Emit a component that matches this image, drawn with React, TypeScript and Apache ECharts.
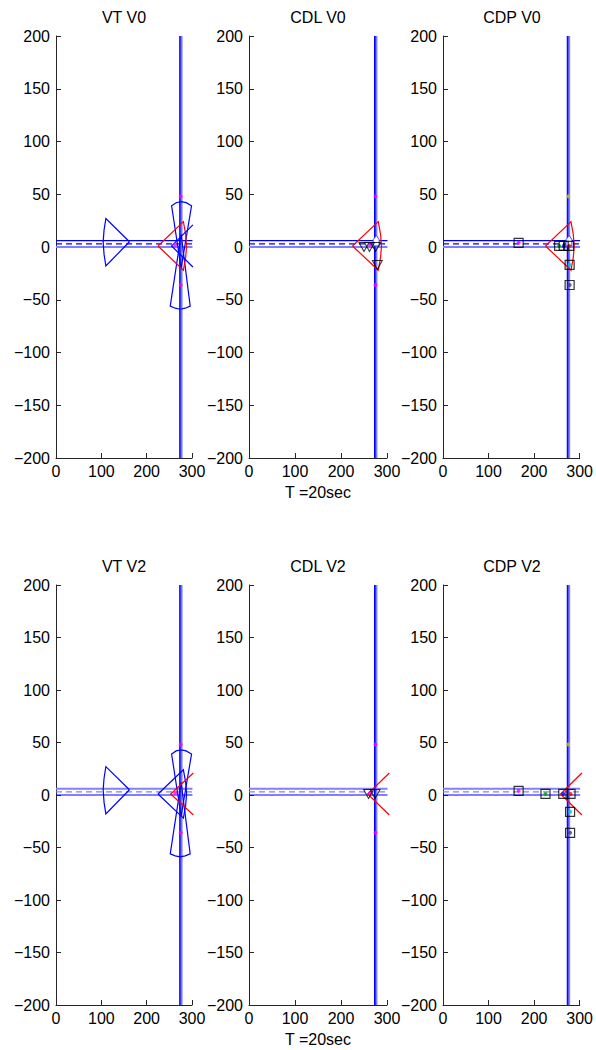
import React, { useEffect, useRef } from "react";
import * as echarts from "echarts";

// ---- text ----
const TITLES = ["VT V0", "CDL V0", "CDP V0", "VT V2", "CDL V2", "CDP V2"];
const TIME_LABEL = "T =20sec";

// ---- axes ----
const X_MIN = 0, X_MAX = 300, X_STEP = 100;
const Y_MIN = -200, Y_MAX = 200, Y_STEP = 50;

// ---- roads ----
const ROAD_H_UPPER = [[0, 6], [301, 6]];
const ROAD_H_CENTER = [[0, 3], [301, 3]];
const ROAD_H_LOWER = [[0, 0], [301, 0]];
const ROAD_V_LEFT = [[273, -200], [273, 200]];
const ROAD_V_CENTER = [[275, -200], [275, 200]];
const ROAD_V_RIGHT = [[277, -200], [277, 200]];

// ---- sensor cones ----
const CONE_WEST = [[162, 5], [110, 27], [106, 16], [104, 5], [106, -7], [110, -18], [162, 5]];
const CONE_NORTH = [[276, -20], [255, 39], [265, 42], [276, 43], [287, 42], [299, 39], [276, -20]];
const CONE_SOUTH = [[276, 12], [252, -56], [263, -58], [274, -59], [285, -58], [296, -56], [276, 12]];
const SECTOR_EAST = [[225, 1], [281, 24], [286, 12], [288, 1], [286, -10], [281, -22], [225, 1]];
const RAYS_VT_V0 = [[302, 21], [255, 1], [302, -19]];
const RAYS_VT_V2 = [[303, 21], [253, 1], [303, -19]];
const RAYS_V2 = [[305, 21], [258, 1], [305, -19]];
const EGO_V0 = [[270, 1], [283, 1], [283, 7], [277, 11], [270, 7]];

// ---- points ----
const MAGENTA_PTS = [[275, 48], [275, -36], [263, 2]];
const YELLOW_PTS = [[275, 48]];
const CDL_V0_TRI = [[250, 0], [262, 0], [275, 0], [279, -17]];
const CDL_V2_TRI = [[260, 1], [274, 1]];
const CDP_V0_SQ = [[166, 4], [255, 1], [265, 1], [277, 1], [278, -17], [278, -36]];
const CDP_V2_SQ = [[166, 4], [225, 1], [264, 1], [280, 1], [279, -16], [279, -36]];
const CDP_DOT_COLORS = ["#ff00ff", "#00a000", "#0000ff", "#ff0000", "#00c8c8", "#404080"];

const BLUE = "#0000ff";
const LIGHT = "#8080ff";
const RED = "#ff0000";
const FONT = '"Liberation Sans", Arial, sans-serif';

const GRIDS = [
  { left: 56, top: 36, width: 136, height: 422 },
  { left: 249, top: 36, width: 138, height: 422 },
  { left: 443, top: 36, width: 138, height: 422 },
  { left: 56, top: 585, width: 136, height: 420 },
  { left: 249, top: 585, width: 138, height: 420 },
  { left: 443, top: 585, width: 138, height: 420 },
];

function line(gi: number, pts: number[][], color: string, width: number, dash: any = null, z = 2) {
  return {
    type: "custom", xAxisIndex: gi, yAxisIndex: gi, coordinateSystem: "cartesian2d",
    clip: false, silent: true, z, data: [pts[0]],
    renderItem: (_p: any, api: any) => ({
      type: "polyline",
      shape: { points: pts.map((p) => api.coord(p)) },
      style: { fill: null, stroke: color, lineWidth: width, lineDash: dash },
    }),
  };
}

function scatter(gi: number, data: any[], opts: any) {
  return { type: "scatter", xAxisIndex: gi, yAxisIndex: gi, data, clip: false, silent: true, ...opts };
}

function polygon(gi: number, pts: number[][], fill: string, stroke: string, z = 3) {
  return {
    type: "custom", xAxisIndex: gi, yAxisIndex: gi, coordinateSystem: "cartesian2d",
    clip: false, silent: true, z, data: [pts[0]],
    renderItem: (_p: any, api: any) => ({
      type: "polygon",
      shape: { points: pts.map((p) => api.coord(p)) },
      style: { fill, stroke, lineWidth: 1 },
    }),
  };
}

function roads(gi: number, v2: boolean) {
  return [
    line(gi, ROAD_H_UPPER, v2 ? LIGHT : BLUE, v2 ? 2 : 1.2),
    line(gi, ROAD_H_CENTER, v2 ? LIGHT : BLUE, 1.2, [6, 4]),
    line(gi, ROAD_H_LOWER, v2 ? BLUE : LIGHT, v2 ? 1.2 : 2),
    line(gi, ROAD_V_RIGHT, LIGHT, 2),
    line(gi, ROAD_V_CENTER, "#4040ff", 1),
    line(gi, ROAD_V_LEFT, BLUE, 1.2),
  ];
}

const W = 1.2;

function buildOption() {
  const series: any[] = [];
  // VT V0
  series.push(...roads(0, false));
  series.push(line(0, CONE_WEST, BLUE, W, null, 4));
  series.push(line(0, CONE_NORTH, BLUE, W, null, 4));
  series.push(line(0, CONE_SOUTH, BLUE, W, null, 4));
  series.push(line(0, SECTOR_EAST, RED, W, null, 4));
  series.push(line(0, RAYS_VT_V0, BLUE, W, null, 4));
  series.push(scatter(0, MAGENTA_PTS, { symbol: "circle", symbolSize: 4, itemStyle: { color: "#ff00ff" }, z: 6 }));
  // CDL V0
  series.push(...roads(1, false));
  series.push(polygon(1, EGO_V0, "#ffffff", "#4040ff"));
  series.push(line(1, SECTOR_EAST, RED, W, null, 4));
  series.push(scatter(1, MAGENTA_PTS, { symbol: "circle", symbolSize: 4, itemStyle: { color: "#ff00ff" }, z: 5 }));
  series.push(scatter(1, CDL_V0_TRI, {
    symbol: "triangle", symbolRotate: 180, symbolSize: [10, 9],
    itemStyle: { color: "rgba(0,0,0,0)", borderColor: "#000", borderWidth: 1 }, z: 6,
  }));
  // CDP V0
  series.push(...roads(2, false));
  series.push(polygon(2, EGO_V0, "#ffffff", "#4040ff"));
  series.push(line(2, SECTOR_EAST, RED, W, null, 4));
  series.push(scatter(2, YELLOW_PTS, { symbol: "circle", symbolSize: 4, itemStyle: { color: "#c8c800" }, z: 5 }));
  series.push(scatter(2, CDP_V0_SQ.map((p, i) => ({ value: p, itemStyle: { color: CDP_DOT_COLORS[i] } })), {
    symbol: "circle", symbolSize: 4, z: 5,
  }));
  series.push(scatter(2, CDP_V0_SQ, {
    symbol: "rect", symbolSize: 9,
    itemStyle: { color: "rgba(0,0,0,0)", borderColor: "#000", borderWidth: 1.2 }, z: 6,
  }));
  // VT V2
  series.push(...roads(3, true));
  series.push(line(3, CONE_WEST, BLUE, W, null, 4));
  series.push(line(3, CONE_NORTH, BLUE, W, null, 4));
  series.push(line(3, CONE_SOUTH, BLUE, W, null, 4));
  series.push(line(3, SECTOR_EAST, BLUE, W, null, 4));
  series.push(line(3, RAYS_VT_V2, RED, W, null, 4));
  series.push(scatter(3, MAGENTA_PTS, { symbol: "circle", symbolSize: 4, itemStyle: { color: "#ff00ff" }, z: 6 }));
  // CDL V2
  series.push(...roads(4, true));
  series.push(line(4, RAYS_V2, RED, W, null, 4));
  series.push(scatter(4, MAGENTA_PTS, { symbol: "circle", symbolSize: 4, itemStyle: { color: "#ff00ff" }, z: 5 }));
  series.push(scatter(4, CDL_V2_TRI, {
    symbol: "triangle", symbolRotate: 180, symbolSize: [10, 9],
    itemStyle: { color: "rgba(0,0,0,0)", borderColor: "#000", borderWidth: 1 }, z: 6,
  }));
  // CDP V2
  series.push(...roads(5, true));
  series.push(line(5, RAYS_V2, RED, W, null, 4));
  series.push(scatter(5, YELLOW_PTS, { symbol: "circle", symbolSize: 4, itemStyle: { color: "#c8c800" }, z: 5 }));
  series.push(scatter(5, CDP_V2_SQ.map((p, i) => ({ value: p, itemStyle: { color: CDP_DOT_COLORS[i] } })), {
    symbol: "circle", symbolSize: 4, z: 5,
  }));
  series.push(scatter(5, CDP_V2_SQ, {
    symbol: "rect", symbolSize: 9,
    itemStyle: { color: "rgba(0,0,0,0)", borderColor: "#000", borderWidth: 1.2 }, z: 6,
  }));

  const axisCommon = {
    axisLine: { show: true, onZero: false, lineStyle: { color: "#262626", width: 1 } },
    axisTick: { show: true, inside: true, length: 5, lineStyle: { color: "#262626" } },
    splitLine: { show: false },
  };
  const fmt = (v: number) => (v < 0 ? "\u2212" + Math.abs(v) : String(v));

  const xAxis = GRIDS.map((_, i) => ({
    type: "value", gridIndex: i, min: X_MIN, max: X_MAX, interval: X_STEP, ...axisCommon,
    axisLabel: { color: "#000", fontSize: 16, fontFamily: FONT, margin: 5, formatter: fmt },
  }));
  const yAxis = GRIDS.map((_, i) => ({
    type: "value", gridIndex: i, min: Y_MIN, max: Y_MAX, interval: Y_STEP, ...axisCommon,
    axisLabel: { color: "#000", fontSize: 16, fontFamily: FONT, margin: 6, formatter: fmt },
  }));

  const texts: any[] = [];
  GRIDS.forEach((g, i) => {
    texts.push({
      type: "text", x: g.left + g.width / 2, y: g.top - 19,
      style: { text: TITLES[i], font: `16px ${FONT}`, fill: "#000", align: "center", verticalAlign: "middle" },
    });
  });
  [GRIDS[1], GRIDS[4]].forEach((g) => {
    texts.push({
      type: "text", x: g.left + g.width / 2, y: g.top + g.height + 34,
      style: { text: TIME_LABEL, font: `16px ${FONT}`, fill: "#000", align: "center", verticalAlign: "middle" },
    });
  });

  return {
    animation: false,
    backgroundColor: "#ffffff",
    grid: GRIDS.map((g) => ({ ...g, containLabel: false })),
    xAxis, yAxis, series,
    graphic: { elements: texts },
  };
}

export default function App() {
  const ref = useRef<HTMLDivElement>(null);
  useEffect(() => {
    document.body.style.margin = "0";
    const chart = echarts.init(ref.current!, null, { renderer: "svg" });
    chart.setOption(buildOption() as any);
    return () => chart.dispose();
  }, []);
  return <div ref={ref} style={{ position: "absolute", left: 0, top: 0, width: 596, height: 1050 }} />;
}
